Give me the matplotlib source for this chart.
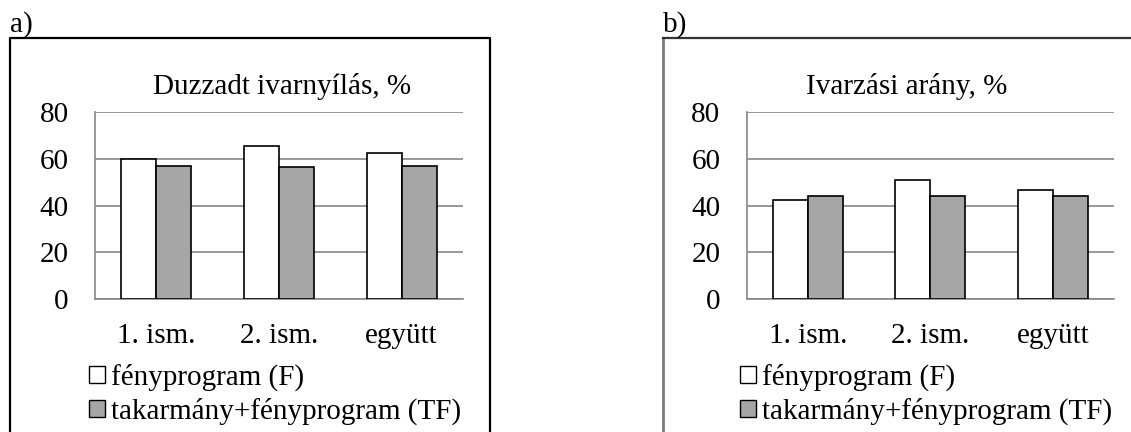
import matplotlib
matplotlib.use("Agg")
import matplotlib.pyplot as plt
import matplotlib.patches as patches
from matplotlib.lines import Line2D
import numpy as np

plt.rcParams["font.family"] = ["Liberation Serif", "DejaVu Serif"]

# adatok
categories = ["1. ism.", "2. ism.", "együtt"]
series_names = ["fényprogram (F)", "takarmány+fényprogram (TF)"]
duzzadt_F = [60.0, 65.3, 62.6]
duzzadt_TF = [57.1, 56.6, 56.8]
ivarzas_F = [42.2, 50.9, 46.6]
ivarzas_TF = [44.1, 44.1, 44.1]
yticks = [0, 20, 40, 60, 80]

W, H = 1131, 432
fig = plt.figure(figsize=(W / 100, H / 100), dpi=100)
fig.patch.set_facecolor("white")

FS = 21
GRID = "#878787"


def px(x0, y0, x1, y1):
    # pixelből figure-koordináta (bal, alsó, szél, mag)
    return [x0 / W, 1 - y1 / H, (x1 - x0) / W, (y1 - y0) / H]


def bar_panel(rect, f_vals, tf_vals, title, title_x, leg_x):
    ax = fig.add_axes(rect)
    x = np.arange(len(categories))
    w = 0.285
    ax.bar(x - w / 2, f_vals, w, color="white", edgecolor="black", linewidth=1.2, zorder=3)
    ax.bar(x + w / 2, tf_vals, w, color="#a6a6a6", edgecolor="black", linewidth=1.2, zorder=3)
    ax.set_xlim(-0.5, len(categories) - 0.5)
    ax.set_ylim(0, 80)
    ax.set_yticks(yticks)
    ax.set_xticks(x)
    ax.set_xticklabels(categories, fontsize=FS)
    ax.tick_params(axis="y", length=0, pad=19, labelsize=FS)
    ax.tick_params(axis="x", length=0, pad=17, labelsize=FS)
    ax.yaxis.grid(True, color=GRID, linewidth=1.2, zorder=0)
    ax.set_axisbelow(True)
    for s in ["top", "right"]:
        ax.spines[s].set_visible(False)
    for s in ["left", "bottom"]:
        ax.spines[s].set_color(GRID)
        ax.spines[s].set_linewidth(1.2)
    fig.text(title_x / W, 1 - 94 / H, title, fontsize=FS, ha="center", va="baseline")

    handles = [
        patches.Patch(facecolor="white", edgecolor="black", linewidth=1.0),
        patches.Patch(facecolor="#a6a6a6", edgecolor="black", linewidth=1.0),
    ]
    fig.legend(handles, series_names, loc="upper left",
               bbox_to_anchor=(leg_x / W, 1 - 364 / H),
               frameon=False, fontsize=FS, handlelength=0.55, handleheight=0.55,
               handletextpad=0.2, labelspacing=0.22, borderpad=0, borderaxespad=0)
    return ax


bar_panel(px(95, 112, 463, 299), duzzadt_F, duzzadt_TF,
          "Duzzadt ivarnyílás, %", 282, 89)
bar_panel(px(746.7, 112, 1114, 299), ivarzas_F, ivarzas_TF,
          "Ivarzási arány, %", 907, 740)

# keretek
tr = fig.transFigure
fig.add_artist(Line2D([10 / W, 10 / W, 490 / W, 490 / W],
                      [0, 1 - 38 / H, 1 - 38 / H, 0], transform=tr,
                      color="black", linewidth=1.6))
fig.add_artist(Line2D([663 / W, 663 / W], [0, 1 - 38 / H],
                      transform=tr, color="#7a7a7a", linewidth=2.0))
fig.add_artist(Line2D([663 / W, 1.0], [1 - 38 / H, 1 - 38 / H],
                      transform=tr, color="#333333", linewidth=1.6))

fig.text(10 / W, 1 - 32 / H, "a)", fontsize=FS, ha="left", va="baseline")
fig.text(663 / W, 1 - 32 / H, "b)", fontsize=FS, ha="left", va="baseline")

fig.savefig("out.png", dpi=100)
